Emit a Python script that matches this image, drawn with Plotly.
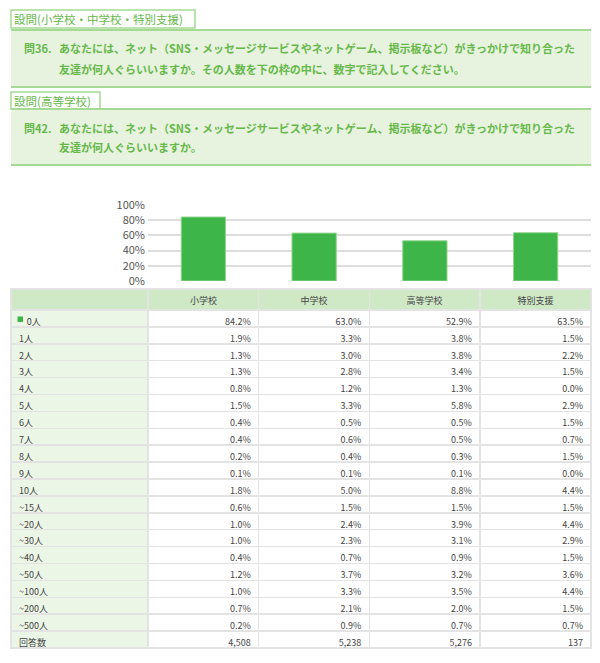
import plotly.graph_objects as go

W, H = 600, 663

# --- data ---
schools = ["小学校", "中学校", "高等学校", "特別支援"]
row_labels = ["0人", "1人", "2人", "3人", "4人", "5人", "6人", "7人", "8人", "9人", "10人",
              "~15人", "~20人", "~30人", "~40人", "~50人", "~100人", "~200人", "~500人", "回答数"]
elem = [84.2, 1.9, 1.3, 1.3, 0.8, 1.5, 0.4, 0.4, 0.2, 0.1, 1.8, 0.6, 1.0, 1.0, 0.4, 1.2, 1.0, 0.7, 0.2]
junior = [63.0, 3.3, 3.0, 2.8, 1.2, 3.3, 0.5, 0.6, 0.4, 0.1, 5.0, 1.5, 2.4, 2.3, 0.7, 3.7, 3.3, 2.1, 0.9]
high = [52.9, 3.8, 3.8, 3.4, 1.3, 5.8, 0.5, 0.5, 0.3, 0.1, 8.8, 1.5, 3.9, 3.1, 0.9, 3.2, 3.5, 2.0, 0.7]
special = [63.5, 1.5, 2.2, 1.5, 0.0, 2.9, 1.5, 0.7, 1.5, 0.0, 4.4, 1.5, 4.4, 2.9, 1.5, 3.6, 4.4, 1.5, 0.7]
respondents = [4508, 5238, 5276, 137]
bar_values = [elem[0], junior[0], high[0], special[0]]
y_ticks = [0, 20, 40, 60, 80, 100]

GREEN = "#3db549"
Q_TEXT = "#66b84a"
Q_LINE = "#a5da94"
Q_FILL = "#e7f3de"
FONT = "Noto Sans CJK JP"


def px_x(x):
    return x / W


def px_y(y):
    return 1 - y / H


fig = go.Figure()

# --- bar chart (0人 share per school type) ---
fig.add_trace(go.Bar(
    x=schools, y=bar_values,
    marker=dict(color=GREEN, line=dict(color="#93d68f", width=1)),
    width=0.4, hoverinfo="skip", showlegend=False,
))

fig.update_xaxes(domain=[px_x(148), px_x(591)], showticklabels=False, showgrid=False,
                 zeroline=False, showline=False, fixedrange=True, automargin=False)
fig.update_yaxes(domain=[px_y(281), px_y(205)], range=[0, 100], tickvals=y_ticks,
                 ticktext=[f"{v}%" for v in y_ticks], showgrid=True, gridcolor="#dddddd",
                 gridwidth=1.5, zeroline=False, showline=False, ticks="", ticklabelstandoff=2,
                 tickfont=dict(family=FONT, size=11, color="#555555"), fixedrange=True,
                 automargin=False)

# --- table ---
def fmt(vals):
    return [f"{v:.1f}%" for v in vals]


# leading spaces leave room for the green legend square in front of "0人"
label_col = ["\u00a0\u00a0\u00a0\u2009" + row_labels[0]] + row_labels[1:]
cols = [label_col]
for i, vals in enumerate([elem, junior, high, special]):
    cols.append(fmt(vals) + [f"{respondents[i]:,}"])

n = len(row_labels)
fig.add_trace(go.Table(
    domain=dict(x=[px_x(11), px_x(591)], y=[px_y(660), px_y(289)]),
    columnwidth=[137, 110.5, 110.5, 110.5, 111],
    header=dict(
        values=[""] + schools,
        fill_color="#cfe8c6",
        line=dict(color="#e3e3e3", width=1.5),
        align="center",
        height=21,
        font=dict(family=FONT, size=9, color="#444444"),
    ),
    cells=dict(
        values=cols,
        fill_color=[["#ecf6e7"] * n] + [["#ffffff"] * n] * 4,
        line=dict(color="#e3e3e3", width=1.5),
        align=["left", "right", "right", "right", "right"],
        height=16.9,
        font=dict(family=FONT, size=9, color="#444444"),
    ),
))

# --- question boxes ---
shapes = []
annotations = []


def tag(x0, x1, y0, y1, text):
    shapes.append(dict(type="rect", xref="paper", yref="paper", x0=px_x(x0), x1=px_x(x1),
                       y0=px_y(y1), y1=px_y(y0), fillcolor="white",
                       line=dict(color=Q_LINE, width=1.5)))
    annotations.append(dict(x=px_x(x0 + 1), y=px_y((y0 + y1) / 2), xref="paper", yref="paper",
                            text=text, showarrow=False, xanchor="left", yanchor="middle",
                            font=dict(family=FONT, size=11.5, color=Q_TEXT)))


def qbox(y0, y1, lines):
    shapes.append(dict(type="rect", xref="paper", yref="paper", x0=px_x(11), x1=px_x(591),
                       y0=px_y(y1), y1=px_y(y0), fillcolor=Q_FILL, line=dict(width=0), layer="below"))
    for yy in (y0, y1):
        shapes.append(dict(type="line", xref="paper", yref="paper", x0=px_x(11), x1=px_x(591),
                           y0=px_y(yy), y1=px_y(yy), line=dict(color=Q_LINE, width=2)))
    for x, y, text in lines:
        annotations.append(dict(x=px_x(x), y=px_y(y), xref="paper", yref="paper", text=text,
                                showarrow=False, xanchor="left", yanchor="middle",
                                font=dict(family=FONT, size=11, color=Q_TEXT, weight="bold")))


q_line1 = "あなたには、ネット（SNS・メッセージサービスやネットゲーム、掲示板など）がきっかけで知り合った"
tag(11, 195, 10, 28, "設問(小学校・中学校・特別支援)")
qbox(30, 87, [(22, 48, "問36."), (57, 48, q_line1),
              (57, 69, "友達が何人ぐらいいますか。その人数を下の枠の中に、数字で記入してください。")])
tag(11, 100, 92, 109, "設問(高等学校)")
qbox(109, 165, [(22, 128, "問42."), (57, 128, q_line1),
                (57, 147, "友達が何人ぐらいいますか。")])

# green legend square in front of "0人"
shapes.append(dict(type="rect", xref="paper", yref="paper", x0=px_x(17.5), x1=px_x(23),
                   y0=px_y(322), y1=px_y(316.5), fillcolor=GREEN, line=dict(width=0)))

fig.update_layout(
    template="none",
    width=W, height=H, autosize=False,
    margin=dict(l=0, r=0, t=0, b=0, pad=0),
    paper_bgcolor="white",
    plot_bgcolor="white",
    shapes=shapes,
    annotations=annotations,
    font=dict(family=FONT),
    showlegend=False,
)

fig.write_html("out.html", config={"displayModeBar": False},
               post_script="document.body.style.margin='0';")
